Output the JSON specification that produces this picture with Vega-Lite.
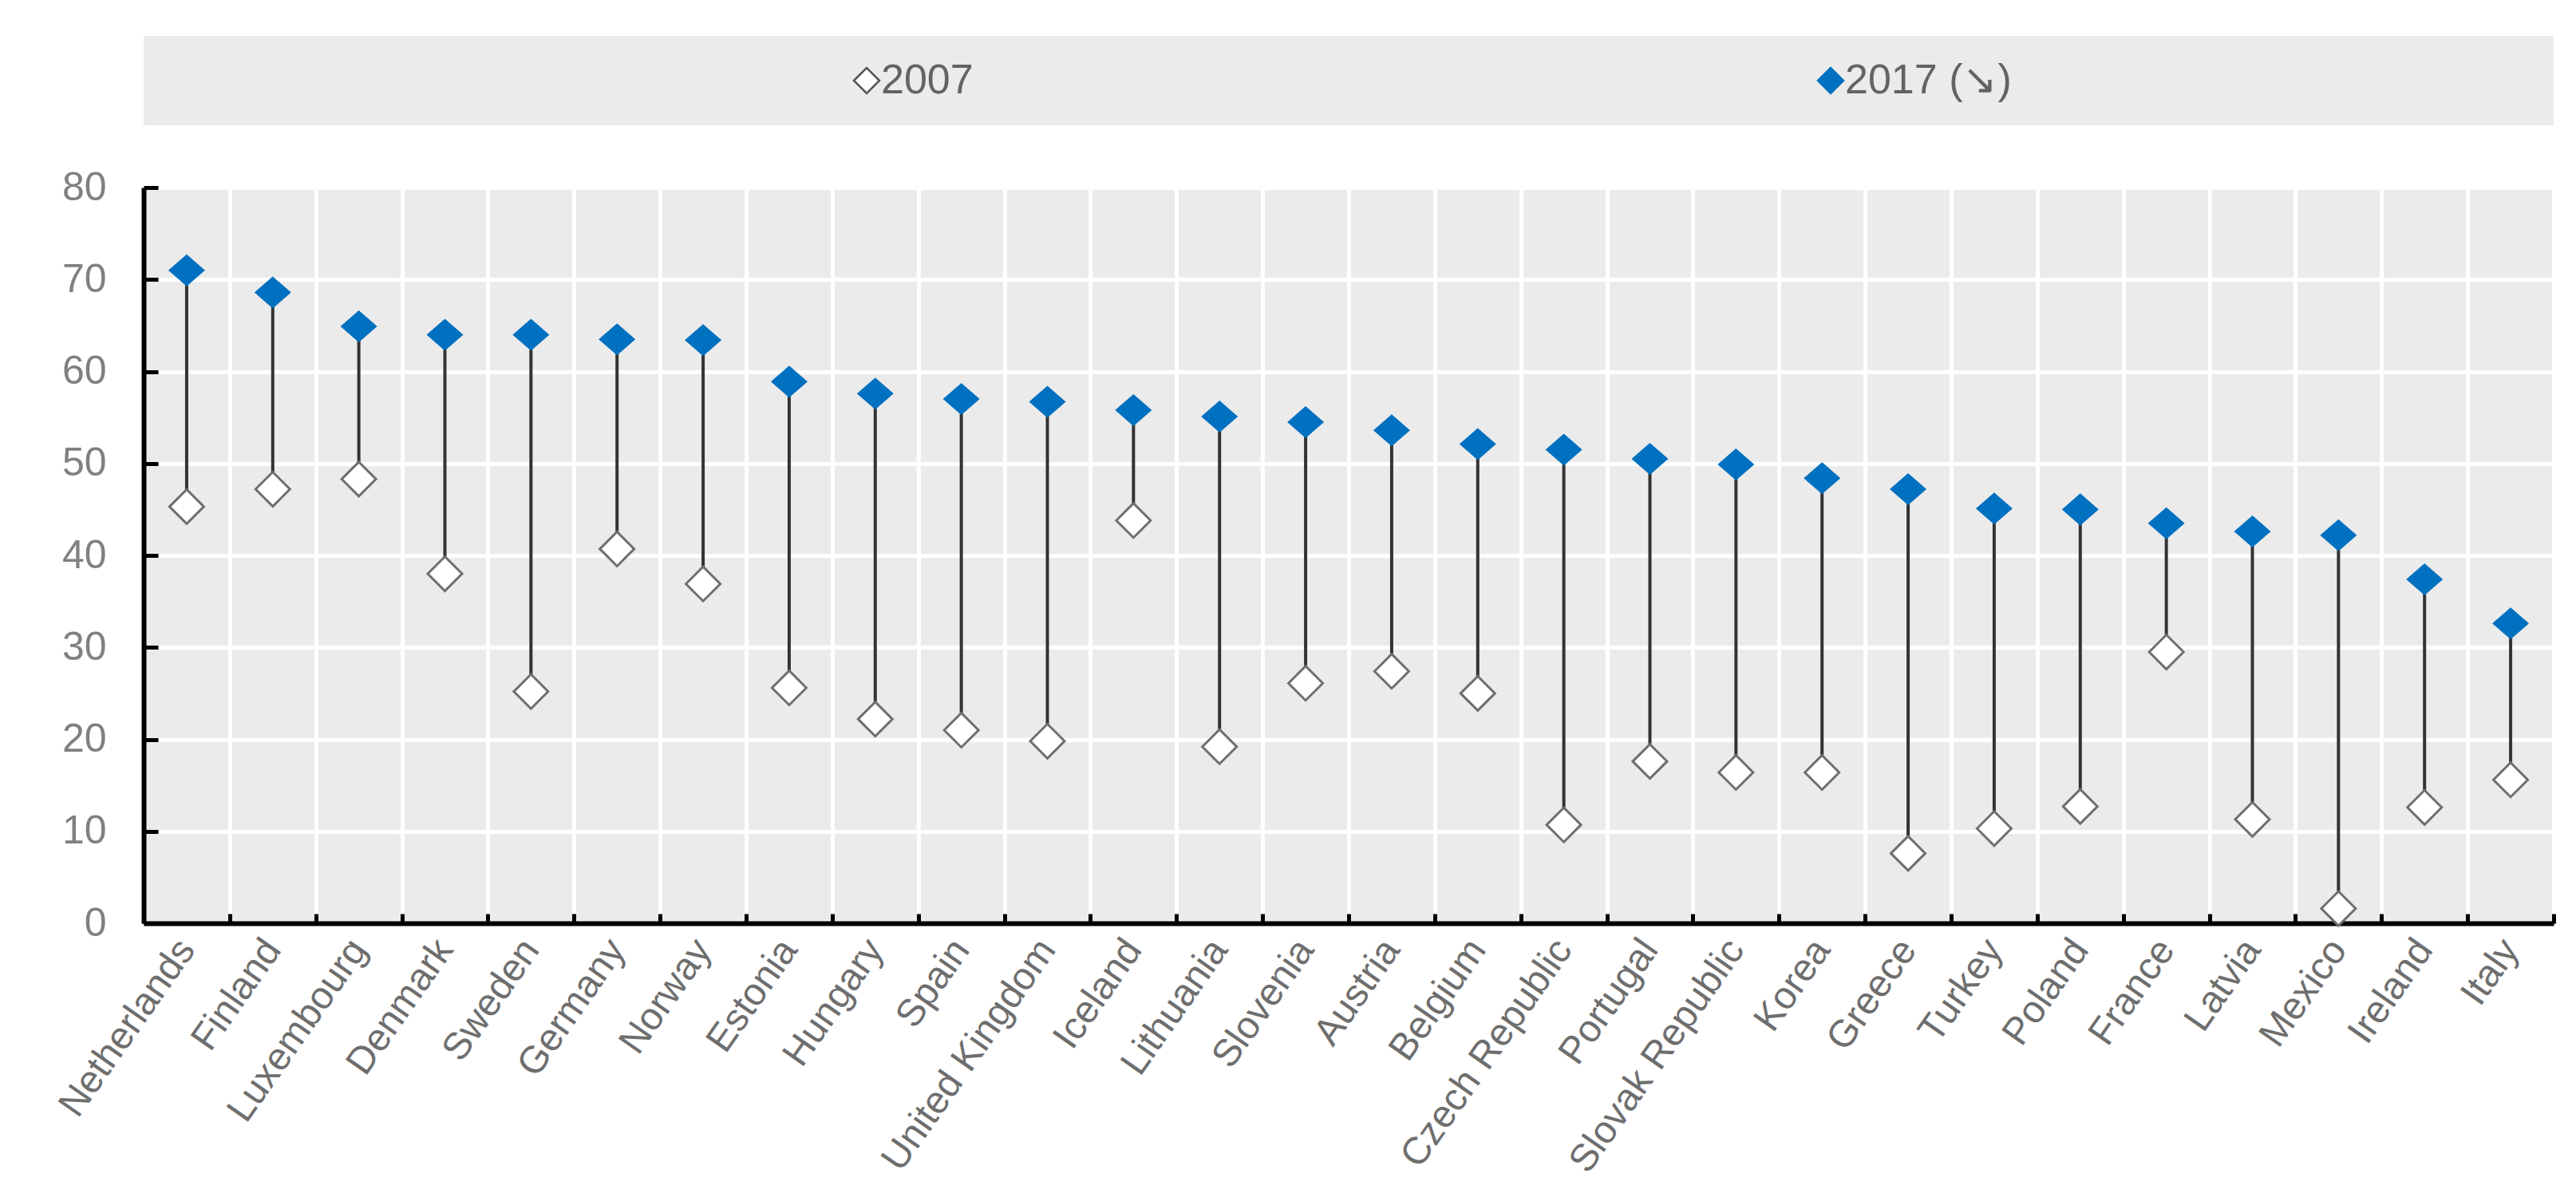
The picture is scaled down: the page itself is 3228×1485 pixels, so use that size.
{
  "$schema": "https://vega.github.io/schema/vega-lite/v6.json",
  "padding": {"left": 65, "top": 45, "right": 20, "bottom": 10},
  "spacing": 78,
  "bounds": "flush",
  "config": {
    "view": {"fill": "#EBEBEB", "stroke": null},
    "font": "Liberation Sans",
    "axis": {"labelFont": "Liberation Sans"}
  },
  "vconcat": [
    {
      "width": 3020,
      "height": 112,
      "data": {"values": [{"series": "2007"}, {"series": "2017 (↘)"}]},
      "encoding": {
        "x": {"field": "series", "type": "nominal", "sort": null, "scale": {"type": "point", "padding": 0.75, "align": 0.5}, "axis": null}
      },
      "layer": [
        {
          "mark": {"type": "point", "shape": "diamond", "size": 1024, "filled": true, "opacity": 1, "strokeWidth": 2.5},
          "encoding": {
            "fill": {"field": "series", "type": "nominal", "scale": {"range": ["#FFFFFF", "#0070C0"]}, "legend": null},
            "stroke": {"field": "series", "type": "nominal", "scale": {"range": ["#555555", "#0070C0"]}, "legend": null}
          }
        },
        {
          "mark": {"type": "text", "align": "left", "baseline": "middle", "dx": 18, "fontSize": 52, "color": "#636363", "font": "Liberation Sans"},
          "encoding": {"text": {"field": "series", "type": "nominal"}}
        }
      ]
    },
    {
      "width": 3020,
      "height": 922,
      "data": {"values": [
        {"country": "Netherlands", "y2007": 45.3, "y2017": 71.0},
        {"country": "Finland", "y2007": 47.2, "y2017": 68.6},
        {"country": "Luxembourg", "y2007": 48.3, "y2017": 64.9},
        {"country": "Denmark", "y2007": 38.0, "y2017": 64.0},
        {"country": "Sweden", "y2007": 25.2, "y2017": 64.0},
        {"country": "Germany", "y2007": 40.7, "y2017": 63.5},
        {"country": "Norway", "y2007": 36.9, "y2017": 63.4},
        {"country": "Estonia", "y2007": 25.6, "y2017": 58.9},
        {"country": "Hungary", "y2007": 22.2, "y2017": 57.6},
        {"country": "Spain", "y2007": 21.0, "y2017": 57.0},
        {"country": "United Kingdom", "y2007": 19.8, "y2017": 56.7},
        {"country": "Iceland", "y2007": 43.8, "y2017": 55.8},
        {"country": "Lithuania", "y2007": 19.2, "y2017": 55.1},
        {"country": "Slovenia", "y2007": 26.1, "y2017": 54.5},
        {"country": "Austria", "y2007": 27.4, "y2017": 53.6},
        {"country": "Belgium", "y2007": 25.0, "y2017": 52.1},
        {"country": "Czech Republic", "y2007": 10.7, "y2017": 51.5},
        {"country": "Portugal", "y2007": 17.6, "y2017": 50.5},
        {"country": "Slovak Republic", "y2007": 16.4, "y2017": 49.9},
        {"country": "Korea", "y2007": 16.4, "y2017": 48.4},
        {"country": "Greece", "y2007": 7.6, "y2017": 47.2},
        {"country": "Turkey", "y2007": 10.3, "y2017": 45.1},
        {"country": "Poland", "y2007": 12.7, "y2017": 45.0},
        {"country": "France", "y2007": 29.5, "y2017": 43.5},
        {"country": "Latvia", "y2007": 11.3, "y2017": 42.6},
        {"country": "Mexico", "y2007": 1.6, "y2017": 42.2},
        {"country": "Ireland", "y2007": 12.6, "y2017": 37.4},
        {"country": "Italy", "y2007": 15.6, "y2017": 32.6}
      ]},
      "encoding": {
        "x": {
          "field": "country", "type": "nominal", "sort": null,
          "scale": {"paddingInner": 0, "paddingOuter": 0},
          "axis": {
            "title": null, "tickBand": "extent", "grid": true, "gridColor": "#FFFFFF", "gridWidth": 5, "gridOpacity": 1,
            "domainColor": "#000000", "domainWidth": 6, "tickColor": "#000000", "tickWidth": 5, "tickSize": -12,
            "labelAngle": -55, "labelAlign": "right", "labelBaseline": "middle", "labelPadding": 37,
            "labelFontSize": 48, "labelColor": "#6E6E6E", "labelLimit": 1000, "labelOverlap": false, "labelFont": "Liberation Sans"
          }
        }
      },
      "layer": [
        {
          "mark": {"type": "rule", "color": "#333333", "strokeWidth": 4},
          "encoding": {
            "y": {"field": "y2007", "type": "quantitative", "scale": {"domain": [0, 80], "nice": false},
              "axis": {"title": null, "values": [0, 10, 20, 30, 40, 50, 60, 70, 80], "grid": true, "gridColor": "#FFFFFF", "gridWidth": 5, "gridOpacity": 1,
                "domainColor": "#000000", "domainWidth": 6, "tickColor": "#000000", "tickWidth": 5, "tickSize": -18,
                "labelPadding": 65, "labelFontSize": 50, "labelColor": "#808080", "labelFont": "Liberation Sans"}},
            "y2": {"field": "y2017"}
          }
        },
        {
          "mark": {"type": "point", "shape": "diamond", "size": 1850, "filled": true, "fill": "#FFFFFF", "stroke": "#6F6F6F", "strokeWidth": 3, "opacity": 1},
          "encoding": {
            "y": {"field": "y2007", "type": "quantitative", "scale": {"domain": [0, 80], "nice": false},
              "axis": {"title": null, "values": [0, 10, 20, 30, 40, 50, 60, 70, 80], "grid": true, "gridColor": "#FFFFFF", "gridWidth": 5, "gridOpacity": 1,
                "domainColor": "#000000", "domainWidth": 6, "tickColor": "#000000", "tickWidth": 5, "tickSize": -18,
                "labelPadding": 65, "labelFontSize": 50, "labelColor": "#808080", "labelFont": "Liberation Sans"}}
          }
        },
        {
          "mark": {"type": "point", "shape": "M -1 0 L 0 -0.87 L 1 0 L 0 0.87 Z", "size": 2116, "filled": true, "color": "#0070C0", "opacity": 1},
          "encoding": {
            "y": {"field": "y2017", "type": "quantitative", "scale": {"domain": [0, 80], "nice": false},
              "axis": {"title": null, "values": [0, 10, 20, 30, 40, 50, 60, 70, 80], "grid": true, "gridColor": "#FFFFFF", "gridWidth": 5, "gridOpacity": 1,
                "domainColor": "#000000", "domainWidth": 6, "tickColor": "#000000", "tickWidth": 5, "tickSize": -18,
                "labelPadding": 65, "labelFontSize": 50, "labelColor": "#808080", "labelFont": "Liberation Sans"}}
          }
        }
      ]
    }
  ]
}
